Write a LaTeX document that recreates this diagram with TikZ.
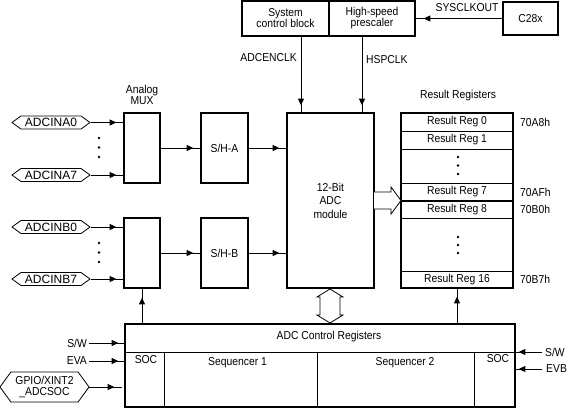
\documentclass[tikz,border=0pt]{standalone}
\usepackage{fontspec}
\setmainfont{Liberation Sans}[FakeStretch=0.9]
\newfontfamily\hexfont{Liberation Sans}
\usetikzlibrary{arrows.meta,shapes.symbols,decorations.markings}
\tikzset{
 box/.style={draw, line width=1.6pt, rectangle, inner sep=0pt},
 arr/.style={line width=0.8pt, postaction={decorate}, decoration={markings, mark=at position #1 with {\arrow{Triangle[length=6.5pt,width=6pt]}}}},
 arr/.default=-6pt,
 txt/.style={inner sep=0pt, font=\fontsize{11.5}{12}\selectfont},
 two/.style={align=center, font=\fontsize{11.5}{11}\selectfont},
 hexa/.style={draw, line width=0.8pt, shape=signal, signal to=west and east, signal pointer angle=72, inner sep=0pt, minimum width=78pt, minimum height=13pt, font=\hexfont\fontsize{12}{12}\selectfont},
 thinl/.style={line width=0.6pt},
 hollow/.style={draw, fill=white, line width=0.8pt, line join=miter},
}
\begin{document}
\begin{tikzpicture}[x=1pt,y=-1pt]
\useasboundingbox (0,0) rectangle (570,408);
% top blocks
\node[box, txt, two, minimum width=87pt, minimum height=35pt] (sys) at (285.5,18.5) {System\\control block};
\node[box, txt, two, minimum width=86pt, minimum height=35pt] (pre) at (372,18.5) {High-speed\\prescaler};
\node[box, txt, minimum width=55pt, minimum height=33pt] (c28) at (530.5,18.5) {C28x};
\node[txt] (sysclk) at (467,8) {SYSCLKOUT};
\draw[arr=-8pt] (c28.west) -- (pre.east);
% main blocks
\node[box, minimum width=36pt, minimum height=70pt] (muxa) at (142,148) {};
\node[box, txt, minimum width=47pt, minimum height=70pt] (sha) at (224.5,148) {S/H-A};
\node[box, minimum width=36pt, minimum height=70pt] (muxb) at (142,253) {};
\node[box, txt, minimum width=47pt, minimum height=70pt] (shb) at (224.5,253) {S/H-B};
\node[box, txt, align=center, font=\fontsize{11.5}{13.5}\selectfont, minimum width=87pt, minimum height=175pt] (adc) at (330.5,200.5) {12-Bit\\ADC\\module};
\node[box, minimum width=112pt, minimum height=175pt] (res) at (457,200.5) {};
\node[box, minimum width=390pt, minimum height=83pt] (ctl) at (320,365.5) {};
\node[txt, two] (muxlbl) at (142,95) {Analog\\MUX};
\node[txt] (reslbl) at (458,96) {Result Registers};
% clocks
\coordinate (ck1) at (301,0);
\coordinate (ck2) at (362,0);
\draw[arr=-7pt] (ck1 |- sys.south) -- (ck1 |- adc.north);
\draw[arr=-7pt] (ck2 |- pre.south) -- (ck2 |- adc.north);
\node[txt, anchor=east] (adcenclk) at (297,58) {ADCENCLK};
\node[txt, anchor=west] (hspclk) at (366,60) {HSPCLK};
% analog inputs
\node[hexa] (a0) at (51,122.5) {ADCINA0};
\node[hexa] (a7) at (51,175) {ADCINA7};
\node[hexa] (b0) at (51,227) {ADCINB0};
\node[hexa] (b7) at (51,279) {ADCINB7};
\draw[arr=-7pt] (a0.east) -- (a0.east -| muxa.west);
\draw[arr=-7pt] (a7.east) -- (a7.east -| muxa.west);
\draw[arr=-7pt] (b0.east) -- (b0.east -| muxb.west);
\draw[arr=-7pt] (b7.east) -- (b7.east -| muxb.west);
\foreach \yy in {138,147.5,157,243,252.5,262} \fill (99,\yy) circle (1.4pt);
\draw[arr=-7pt] (muxa.east) -- (sha.west);
\draw[arr=-7pt] (sha.east) -- (sha.east -| adc.west);
\draw[arr=-7pt] (muxb.east) -- (shb.west);
\draw[arr=-7pt] (shb.east) -- (shb.east -| adc.west);
% result registers
\draw[line width=1pt] (401,131.5) -- (513,131.5);
\draw[line width=1pt] (401,149) -- (513,149);
\draw[line width=1pt] (401,183) -- (513,183);
\draw[line width=1.6pt] (401,201) -- (513,201);
\draw[line width=0.5pt] (401,218) -- (513,218);
\draw[line width=0.5pt] (401,271) -- (513,271);
\node[txt] (r0) at (457,122) {Result Reg 0};
\node[txt] (r1) at (457,140) {Result Reg 1};
\node[txt] (r7) at (457,192) {Result Reg 7};
\node[txt] (r8) at (457,209.5) {Result Reg 8};
\node[txt] (r16) at (457,279.5) {Result Reg 16};
\foreach \yy in {157,165.5,174,237,245,253} \fill (458,\yy) circle (1.3pt);
\node[txt, anchor=west] (ad0) at (520,122) {70A8h};
\node[txt, anchor=west] (ad7) at (520,192) {70AFh};
\node[txt, anchor=west] (ad8) at (520,209.5) {70B0h};
\node[txt, anchor=west] (ad16) at (520,279.5) {70B7h};
% fat arrow ADC -> results
\path[hollow] (374,192) -- (391,192) -- (391,187) -- (401,200.5) -- (391,214) -- (391,209) -- (374,209);
% double arrow ADC <-> control
\path[hollow] (330,289) -- (343,297) -- (340,297) -- (340,315) -- (343,315) -- (330,323) -- (317,315) -- (320,315) -- (320,297) -- (317,297) -- cycle;
% control registers internals
\draw[thinl] (ctl.west |- 0,352) -- (ctl.east |- 0,352);
\draw[thinl] (164,352) -- (164,407);
\draw[thinl] (317,352) -- (317,407);
\draw[thinl] (474,352) -- (474,407);
\node[txt] (ctllbl) at (329,337) {ADC Control Registers};
\node[txt] (socl) at (146,360) {SOC};
\node[txt] (seq1) at (237.5,363) {Sequencer 1};
\node[txt] (seq2) at (405,363) {Sequencer 2};
\node[txt] (socr) at (498,359) {SOC};
% control -> mux B and results
\draw[arr=-9pt] (muxb.south |- ctl.north) -- (muxb.south);
\draw[arr=-8pt] (res.south |- ctl.north) -- (res.south);
% left inputs
\node[txt, anchor=east] (swl) at (87,343) {S/W};
\node[txt, anchor=east] (eva) at (87,361) {EVA};
\node[hexa, two, font=\fontsize{11.5}{11.5}\selectfont, minimum width=89pt, minimum height=30pt, signal pointer angle=108] (gpio) at (44.5,387) {GPIO/XINT2\\\_ADCSOC};
\draw[arr] (swl.east) ++(2,0) -- (swl.east -| ctl.west);
\draw[arr] (eva.east) ++(2,0) -- (eva.east -| ctl.west);
\draw[arr=-8pt] (gpio.east) -- ([xshift=-2pt]gpio.east -| ctl.west);
% right inputs
\node[txt, anchor=west] (swr) at (545,352) {S/W};
\node[txt, anchor=west] (evb) at (546,369) {EVB};
\draw[arr=-3pt] (swr.west) ++(-3,0) -- (swr.west -| ctl.east);
\draw[arr=-3pt] (evb.west) ++(-4,0) -- (evb.west -| ctl.east);
\end{tikzpicture}
\end{document}
